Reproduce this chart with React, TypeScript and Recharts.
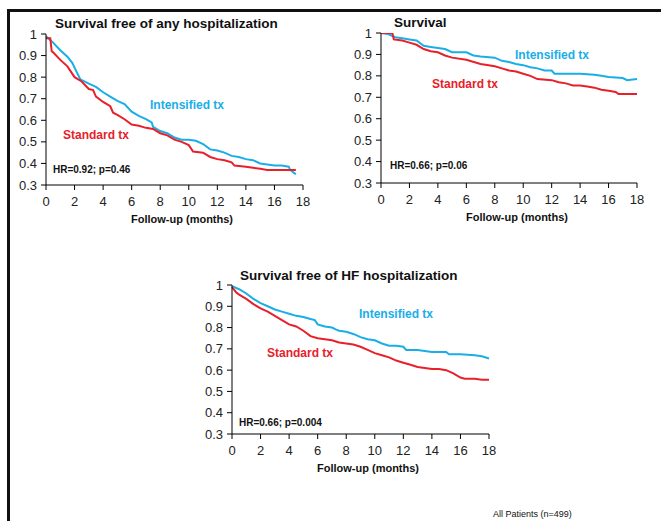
import { LineChart, Line, XAxis, YAxis } from "recharts";

// months / survival probability
const anyHospIntensified: [number, number][] = [
  [0, 0.99], [0.5, 0.96], [1, 0.925], [1.5, 0.895], [1.85, 0.865], [2.1, 0.83], [2.4, 0.79],
  [3, 0.77], [3.5, 0.755], [4, 0.73], [4.5, 0.71], [5, 0.69], [5.5, 0.675], [6, 0.64],
  [6.5, 0.62], [7, 0.605], [7.4, 0.59], [7.5, 0.57], [8, 0.55], [8.5, 0.54], [9, 0.52],
  [9.5, 0.51], [10, 0.51], [10.5, 0.505], [11, 0.49], [11.5, 0.465], [12, 0.46],
  [12.5, 0.45], [13, 0.435], [13.5, 0.43], [14, 0.42], [14.5, 0.415], [15, 0.4],
  [15.5, 0.395], [16, 0.39], [16.5, 0.39], [17, 0.385], [17.1, 0.37], [17.5, 0.35],
];
const anyHospStandard: [number, number][] = [
  [0, 0.98], [0.3, 0.98], [0.4, 0.92], [0.5, 0.915], [1, 0.88], [1.5, 0.85], [2, 0.8],
  [2.5, 0.78], [3, 0.745], [3.3, 0.74], [3.5, 0.71], [4, 0.685], [4.5, 0.665], [4.7, 0.635],
  [5, 0.625], [5.5, 0.605], [6, 0.58], [6.5, 0.575], [7, 0.565], [7.5, 0.56], [8, 0.54],
  [8.5, 0.53], [9, 0.51], [9.5, 0.5], [10, 0.485], [10.3, 0.455], [11, 0.45], [11.5, 0.43],
  [12, 0.42], [12.5, 0.415], [13, 0.405], [13.2, 0.39], [14, 0.385], [14.5, 0.38],
  [15, 0.375], [15.5, 0.37], [16, 0.37], [17, 0.37], [17.5, 0.37],
];

const survivalIntensified: [number, number][] = [
  [0, 1.0], [0.5, 0.995], [1, 0.98], [1.5, 0.975], [2, 0.97], [2.5, 0.965], [3, 0.94],
  [3.5, 0.935], [4, 0.93], [4.5, 0.925], [5, 0.91], [6, 0.91], [6.5, 0.895], [7, 0.89],
  [8, 0.885], [8.5, 0.87], [9, 0.865], [9.5, 0.855], [10, 0.85], [10.5, 0.84], [11, 0.835],
  [11.5, 0.825], [12, 0.825], [12.2, 0.81], [13, 0.81], [14, 0.81], [15, 0.805],
  [15.5, 0.8], [16, 0.795], [17, 0.79], [17.3, 0.78], [18, 0.785],
];
const survivalStandard: [number, number][] = [
  [0, 1.0], [0.8, 1.0], [0.9, 0.97], [1.5, 0.965], [2, 0.955], [2.5, 0.945], [3, 0.925],
  [3.5, 0.915], [4, 0.91], [4.5, 0.895], [5, 0.885], [6, 0.875], [7, 0.855], [8, 0.845],
  [8.5, 0.835], [9, 0.825], [9.5, 0.82], [10, 0.81], [10.5, 0.8], [11, 0.785], [12, 0.78],
  [12.5, 0.77], [13, 0.765], [13.5, 0.755], [14, 0.755], [14.5, 0.75], [15, 0.745],
  [15.5, 0.735], [16, 0.73], [16.5, 0.725], [16.7, 0.715], [18, 0.715],
];

const hfHospIntensified: [number, number][] = [
  [0, 0.995], [0.5, 0.98], [1, 0.96], [1.5, 0.935], [2, 0.915], [2.5, 0.9], [3, 0.885],
  [3.5, 0.875], [4, 0.865], [4.5, 0.855], [5, 0.85], [5.5, 0.84], [5.8, 0.835], [6, 0.815],
  [6.5, 0.805], [7, 0.8], [7.3, 0.79], [7.5, 0.785], [8, 0.78], [8.5, 0.77], [9, 0.755],
  [9.5, 0.745], [10, 0.74], [10.5, 0.725], [11, 0.715], [11.5, 0.715], [12, 0.71],
  [12.2, 0.695], [13, 0.695], [13.5, 0.69], [14, 0.685], [15, 0.685], [15.2, 0.675],
  [16, 0.675], [17, 0.67], [17.5, 0.665], [18, 0.655],
];
const hfHospStandard: [number, number][] = [
  [0, 0.99], [0.3, 0.965], [0.5, 0.955], [1, 0.935], [1.5, 0.91], [2, 0.89], [2.5, 0.875],
  [3, 0.855], [3.5, 0.835], [4, 0.815], [4.5, 0.805], [5, 0.785], [5.5, 0.76], [6, 0.75],
  [6.5, 0.745], [7, 0.74], [7.5, 0.73], [8, 0.725], [8.5, 0.72], [9, 0.71], [9.5, 0.695],
  [10, 0.68], [10.5, 0.67], [11, 0.66], [11.5, 0.645], [12, 0.635], [12.5, 0.625],
  [13, 0.615], [13.5, 0.61], [14, 0.605], [14.5, 0.605], [15, 0.6], [15.5, 0.585],
  [16, 0.565], [16.3, 0.56], [17, 0.56], [17.5, 0.555], [18, 0.555],
];

const monthTicks = [0, 2, 4, 6, 8, 10, 12, 14, 16, 18];
const survTicks = [0.3, 0.4, 0.5, 0.6, 0.7, 0.8, 0.9, 1];

const BLUE = "#1aaee8";
const RED = "#e8202a";
const FONT = "'Liberation Sans', Arial, sans-serif";

const toRows = (pts: [number, number][]) => pts.map(([month, surv]) => ({ month, surv }));

type PanelProps = {
  plotLeft: number;
  plotTop: number;
  plotW: number;
  plotH: number;
  intensified: [number, number][];
  standard: [number, number][];
};

function Panel({ plotLeft, plotTop, plotW, plotH, intensified, standard }: PanelProps) {
  const yw = 40;
  const mt = 10;
  const xh = 30;
  return (
    <div style={{ position: "absolute", left: plotLeft - yw, top: plotTop - mt }}>
      <LineChart
        width={plotW + yw + 10}
        height={plotH + mt + xh}
        margin={{ top: mt, right: 10, left: 0, bottom: 0 }}
      >
        <XAxis
          dataKey="month"
          type="number"
          domain={[0, 18]}
          ticks={monthTicks}
          height={xh}
          stroke="#000"
          tickSize={5}
          tickMargin={7}
          tick={{ fill: "#222", fontSize: 13, fontFamily: FONT }}
          allowDuplicatedCategory={false}
        />
        <YAxis
          dataKey="surv"
          type="number"
          domain={[0.3, 1]}
          ticks={survTicks}
          width={yw}
          stroke="#000"
          tickSize={5}
          tickMargin={4}
          tick={{ fill: "#222", fontSize: 13, fontFamily: FONT }}
          allowDataOverflow
        />
        <Line
          data={toRows(intensified)}
          dataKey="surv"
          stroke={BLUE}
          strokeWidth={2}
          dot={false}
          isAnimationActive={false}
        />
        <Line
          data={toRows(standard)}
          dataKey="surv"
          stroke={RED}
          strokeWidth={2}
          dot={false}
          isAnimationActive={false}
        />
      </LineChart>
    </div>
  );
}

function Txt({ x, y, size, color = "#111", bold = true, children }: any) {
  return (
    <div
      style={{
        position: "absolute",
        left: x,
        top: y,
        transform: "translateY(-50%)",
        lineHeight: 1,
        whiteSpace: "nowrap",
        fontFamily: FONT,
        fontSize: size,
        fontWeight: bold ? 700 : 400,
        color,
      }}
    >
      {children}
    </div>
  );
}

export default function App() {
  return (
    <div
      style={{
        position: "absolute",
        left: 0,
        top: 0,
        width: 661,
        height: 521,
        background: "#fff",
        overflow: "hidden",
      }}
    >
      {/* slide frame */}
      <div style={{ position: "absolute", left: 7, top: 9, width: 660, height: 3, background: "#111" }} />
      <div style={{ position: "absolute", left: 7, top: 9, width: 3, height: 520, background: "#111" }} />

      <Panel plotLeft={46} plotTop={34} plotW={257} plotH={151} intensified={anyHospIntensified} standard={anyHospStandard} />
      <Txt x={55} y={24} size={13.5}>Survival free of any hospitalization</Txt>
      <Txt x={150} y={105} size={12} color={BLUE}>Intensified tx</Txt>
      <Txt x={63} y={135} size={12} color={RED}>Standard tx</Txt>
      <Txt x={53} y={170} size={10}>HR=0.92; p=0.46</Txt>
      <Txt x={131} y={219} size={11}>Follow-up (months)</Txt>

      <Panel plotLeft={381} plotTop={33} plotW={256} plotH={150} intensified={survivalIntensified} standard={survivalStandard} />
      <Txt x={394} y={23} size={13.5}>Survival</Txt>
      <Txt x={515} y={55} size={12} color={BLUE}>Intensified tx</Txt>
      <Txt x={432} y={84} size={12} color={RED}>Standard tx</Txt>
      <Txt x={390} y={166} size={10}>HR=0.66; p=0.06</Txt>
      <Txt x={466} y={217} size={11}>Follow-up (months)</Txt>

      <Panel plotLeft={232} plotTop={285} plotW={257} plotH={149} intensified={hfHospIntensified} standard={hfHospStandard} />
      <Txt x={240} y={276} size={13.5}>Survival free of HF hospitalization</Txt>
      <Txt x={359} y={314} size={12} color={BLUE}>Intensified tx</Txt>
      <Txt x={267} y={353} size={12} color={RED}>Standard tx</Txt>
      <Txt x={239} y={423} size={10}>HR=0.66; p=0.004</Txt>
      <Txt x={317} y={468} size={11}>Follow-up (months)</Txt>

      <Txt x={493} y={514} size={9} bold={false}>All Patients (n=499)</Txt>
    </div>
  );
}
